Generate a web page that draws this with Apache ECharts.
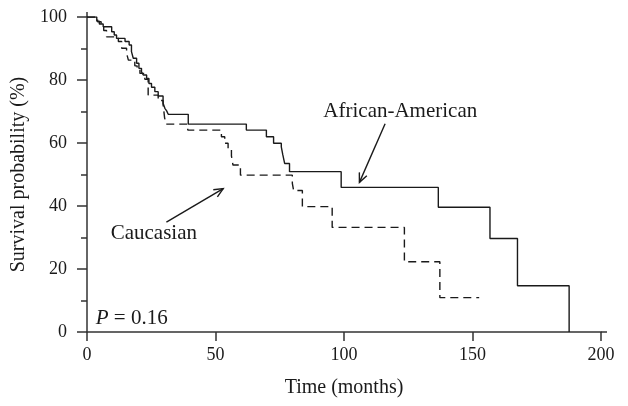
<!DOCTYPE html>
<html>
<head>
<meta charset="utf-8">
<script src="https://cdn.jsdelivr.net/npm/echarts@6/dist/echarts.min.js"></script>
<style>
  html, body { margin: 0; padding: 0; background: #fff; }
  #chart { width: 628px; height: 406px; }
</style>
</head>
<body>
<div id="chart"></div>
<script>
// survival steps: [months, survival %]
var africanAmerican = [
  [0, 100], [3.8, 98.7], [4.8, 97.8], [6.3, 96.9], [9.6, 95.3], [10.6, 94.3],
  [11.5, 93.2], [14.8, 92.2], [16.4, 91.1], [17.3, 89], [18, 86.9], [19.3, 85.3],
  [20.2, 83.7], [21.2, 82.6], [21.9, 81.6], [23.2, 80.5], [24.1, 78.9], [25.1, 77.7],
  [26.4, 76.3], [27.7, 74.9], [29.6, 72.6], [30.3, 71], [31, 70.2], [31.6, 69.1],
  [39.4, 66], [62, 64.1], [69.8, 62], [72.6, 59.9], [75.6, 58.8], [76.2, 56.2],
  [76.9, 53.5], [78.8, 50.9], [98.9, 45.9], [136.7, 39.6], [156.8, 29.7],
  [167.5, 14.7], [187.6, 0]
];
var caucasian = [
  [0, 100], [4.1, 98.5], [5.5, 97.2], [6.5, 95.7], [7.6, 93.7], [12.2, 92.2],
  [13.5, 90.1], [15.4, 88.5], [16.1, 86.3], [18.6, 84.5], [19.5, 83.5], [20.6, 82.1],
  [22.5, 80.2], [23.8, 75.2], [27.7, 73.5], [29.6, 72.2], [30.2, 68], [30.8, 66],
  [39.2, 64.1], [52.3, 62], [53.6, 59.9], [54.9, 58.3], [56.2, 55.9], [56.8, 53],
  [59.7, 49.8], [79.9, 47.2], [80.4, 44.9], [83.8, 39.8], [95.4, 33.2],
  [123.5, 22.3], [137.3, 10.9], [152.6, 10.9]
];
var seriesNames = ['African-American', 'Caucasian'];

var FONT = '"Liberation Serif", "DejaVu Serif", serif';
var INK = '#1a1a1a';
var AXIS = '#333';

var chart = echarts.init(document.getElementById('chart'));

// labels and arrows, anchored in data units
var notes = [
  { text: 'African-American', at: [121.9, 70], from: [116, 66.1], to: [106, 47.5] },
  { text: 'Caucasian', at: [26, 31.3], from: [30.9, 34.9], to: [53, 45.5] }
];

chart.setOption({
  animation: false,
  grid: { left: 87, right: 27, top: 17, bottom: 74 },
  xAxis: {
    type: 'value',
    min: 0, max: 200, interval: 50,
    name: 'Time (months)',
    nameLocation: 'middle',
    nameGap: 46,
    nameTextStyle: { fontFamily: FONT, fontSize: 20, color: INK },
    axisLine: { lineStyle: { color: AXIS, width: 1.5 } },
    axisTick: { length: 9, lineStyle: { color: AXIS, width: 1.5 } },
    axisLabel: { margin: 14, fontFamily: FONT, fontSize: 18, color: INK },
    splitLine: { show: false }
  },
  yAxis: {
    type: 'value',
    min: 0, max: 100, interval: 20,
    name: 'Survival probability (%)',
    nameLocation: 'middle',
    nameGap: 48,
    nameTextStyle: { fontFamily: FONT, fontSize: 20, color: INK },
    axisLine: { show: true, lineStyle: { color: AXIS, width: 1.5 } },
    axisTick: { show: true, length: 10, lineStyle: { color: AXIS, width: 1.5 } },
    minorTick: { show: true, splitNumber: 2, length: 6, lineStyle: { color: AXIS, width: 1.5 } },
    axisLabel: { margin: 20, fontFamily: FONT, fontSize: 18, color: INK },
    splitLine: { show: false }
  },
  series: [
    {
      name: seriesNames[0],
      type: 'line',
      step: 'end',
      data: africanAmerican,
      showSymbol: false,
      lineStyle: { color: INK, width: 1.4 }
    },
    {
      name: seriesNames[1],
      type: 'line',
      step: 'end',
      data: caucasian,
      showSymbol: false,
      lineStyle: { color: INK, width: 1.4, type: [8, 5] }
    }
  ]
});

function drawNotes() {
  var els = [];
  var px = function (v) { return chart.convertToPixel({ gridIndex: 0 }, v); };
  notes.forEach(function (n) {
    var p = px(n.at), a = px(n.from), b = px(n.to);
    els.push({
      type: 'text', x: p[0], y: p[1],
      style: { text: n.text, font: '21px ' + FONT, fill: INK, align: 'center', verticalAlign: 'middle' }
    });
    var ang = Math.atan2(b[1] - a[1], b[0] - a[0]);
    var len = 10, spread = 0.42;
    els.push({
      type: 'polyline',
      shape: { points: [a, b] },
      style: { stroke: INK, lineWidth: 1.4, fill: null }
    });
    els.push({
      type: 'polyline',
      shape: { points: [
        [b[0] - len * Math.cos(ang - spread), b[1] - len * Math.sin(ang - spread)],
        b,
        [b[0] - len * Math.cos(ang + spread), b[1] - len * Math.sin(ang + spread)]
      ] },
      style: { stroke: INK, lineWidth: 1.4, fill: null }
    });
  });
  var pp = px([3.4, 4.2]);
  els.push({
    type: 'text', x: pp[0], y: pp[1],
    style: {
      text: '{i|P} = 0.16',
      font: '21px ' + FONT, fill: INK, verticalAlign: 'middle',
      rich: { i: { fontStyle: 'italic', fontFamily: FONT, fontSize: 21 } }
    }
  });
  // axis lines run a little past the last ticks in the original
  var o = px([0, 0]), xe = px([200, 0]), ye = px([0, 100]);
  els.push({
    type: 'line', shape: { x1: xe[0], y1: xe[1], x2: xe[0] + 6, y2: xe[1] },
    style: { stroke: AXIS, lineWidth: 1.5 }
  });
  els.push({
    type: 'line', shape: { x1: o[0], y1: ye[1], x2: o[0], y2: ye[1] - 5 },
    style: { stroke: AXIS, lineWidth: 1.5 }
  });
  chart.setOption({ graphic: els });
}
drawNotes();
</script>
</body>
</html>
